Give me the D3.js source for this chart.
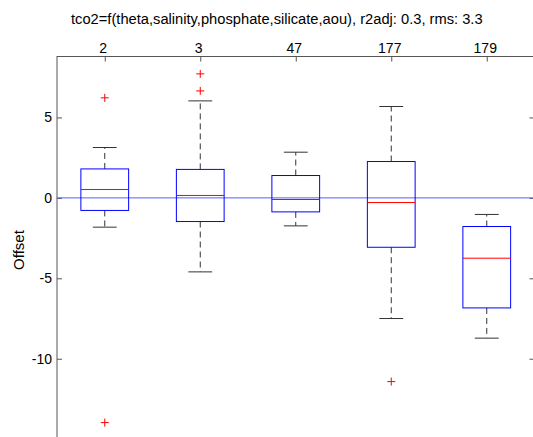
<!DOCTYPE html>
<html>
<head>
<meta charset="utf-8">
<script src="https://cdn.jsdelivr.net/npm/d3@7"></script>
<style>
  body { margin: 0; background: #fff; }
  svg { display: block; font-family: "Liberation Sans", Arial, sans-serif; }
</style>
</head>
<body>
<svg class="chart"></svg>
<script>
const categories = ["2", "3", "47", "177", "179"];
const whiskHi = [3.13, 6.03, 2.84, 5.68, -1.03];
const q3      = [1.80, 1.77, 1.39, 2.26, -1.78];
const median  = [0.52, 0.15, -0.10, -0.29, -3.75];
const q1      = [-0.78, -1.47, -0.87, -3.07, -6.84];
const whiskLo = [-1.82, -4.60, -1.74, -7.50, -8.72];
const outliers = [[6.22, -13.97], [7.71, 6.65], [], [-11.42], []];
const yTicks = [5, 0, -5, -10];
const title = "tco2=f(theta,salinity,phosphate,silicate,aou), r2adj: 0.3, rms: 3.3";

const W = 533, H = 437;
const svg = d3.select(".chart").attr("width", W).attr("height", H);

const mLeft = 57, mRight = 534.5, mTop = 56, mBottom = 444;

const x = d3.scaleLinear().domain([0.5, 5.5]).range([mLeft, mRight]);
const y = d3.scaleLinear().domain([8.82, -15.3]).range([mTop, mBottom]);

const axisColor = "#555";

// title
svg.append("text")
  .attr("x", 71).attr("y", 24)
  .attr("font-size", 14.7)
  .text(title);

// axes box
const g = svg.append("g");
g.append("line").attr("x1", mLeft).attr("x2", mLeft).attr("y1", mTop).attr("y2", mBottom)
  .attr("stroke", axisColor);
g.append("line").attr("x1", mLeft).attr("x2", mRight).attr("y1", mTop + 0.5).attr("y2", mTop + 0.5)
  .attr("stroke", axisColor);
g.append("line").attr("x1", mRight).attr("x2", mRight).attr("y1", mTop).attr("y2", mBottom)
  .attr("stroke", axisColor);

// top axis with category labels (ticks inward)
const topAxis = d3.axisTop(x).tickValues([1, 2, 3, 4, 5])
  .tickFormat((d, i) => categories[i]).tickSizeInner(-5).tickSizeOuter(0).tickPadding(4);
const ta = svg.append("g").attr("transform", "translate(0," + (mTop + 0.5) + ")").call(topAxis);
ta.select(".domain").remove();
ta.selectAll("line").attr("stroke", axisColor);
ta.selectAll("text").attr("font-size", 14).attr("fill", "#000").attr("font-family", null)
  .attr("dx", -2);

// bottom ticks (inward)
const botAxis = d3.axisBottom(x).tickValues([1, 2, 3, 4, 5]).tickFormat("").tickSizeInner(-5).tickSizeOuter(0);
const ba = svg.append("g").attr("transform", "translate(0," + mBottom + ")").call(botAxis);
ba.select(".domain").remove();
ba.selectAll("line").attr("stroke", axisColor);

// left axis
const leftAxis = d3.axisLeft(y).tickValues(yTicks).tickFormat(d => String(d))
  .tickSizeInner(-5).tickSizeOuter(0).tickPadding(5);
const la = svg.append("g").attr("transform", "translate(" + mLeft + ",0)").call(leftAxis);
la.select(".domain").remove();
la.selectAll("line").attr("stroke", axisColor);
la.selectAll("text").attr("font-size", 14).attr("fill", "#000").attr("font-family", null);

// right ticks
const rightAxis = d3.axisRight(y).tickValues(yTicks).tickFormat("").tickSizeInner(-5).tickSizeOuter(0);
const ra = svg.append("g").attr("transform", "translate(" + mRight + ",0)").call(rightAxis);
ra.select(".domain").remove();
ra.selectAll("line").attr("stroke", axisColor);

// y label
svg.append("text")
  .attr("transform", "translate(24,250) rotate(-90)")
  .attr("text-anchor", "middle").attr("font-size", 15)
  .text("Offset");

// zero line
svg.append("line")
  .attr("x1", mLeft).attr("x2", mRight)
  .attr("y1", y(0)).attr("y2", y(0))
  .attr("stroke", "#5c5cff").attr("stroke-width", 1);

const boxW = 0.5, capW = 0.25;
const boxes = svg.append("g").selectAll("g")
  .data(categories.map((c, i) => i)).join("g");

// whiskers
boxes.append("line")
  .attr("x1", i => x(i + 1)).attr("x2", i => x(i + 1))
  .attr("y1", i => y(q3[i])).attr("y2", i => y(whiskHi[i]))
  .attr("stroke", "#333").attr("stroke-dasharray", "6,4");
boxes.append("line")
  .attr("x1", i => x(i + 1)).attr("x2", i => x(i + 1))
  .attr("y1", i => y(q1[i])).attr("y2", i => y(whiskLo[i]))
  .attr("stroke", "#333").attr("stroke-dasharray", "6,4");

// caps
[whiskHi, whiskLo].forEach(arr => {
  boxes.append("line")
    .attr("x1", i => x(i + 1 - capW / 2)).attr("x2", i => x(i + 1 + capW / 2))
    .attr("y1", i => y(arr[i])).attr("y2", i => y(arr[i]))
    .attr("stroke", "#333");
});

// box
boxes.append("rect")
  .attr("x", i => x(i + 1 - boxW / 2)).attr("width", x(1 + boxW) - x(1))
  .attr("y", i => y(q3[i])).attr("height", i => y(q1[i]) - y(q3[i]))
  .attr("fill", "none").attr("stroke", "#0000ff");

// median
boxes.append("line")
  .attr("x1", i => x(i + 1 - boxW / 2)).attr("x2", i => x(i + 1 + boxW / 2))
  .attr("y1", i => y(median[i])).attr("y2", i => y(median[i]))
  .attr("stroke", "#ff0000");

// outliers
const pts = [];
outliers.forEach((arr, i) => arr.forEach(v => pts.push({ i, v })));
svg.append("g").selectAll("path").data(pts).join("path")
  .attr("d", d => {
    const cx = x(d.i + 1), cy = y(d.v);
    return "M" + (cx - 4) + "," + cy + "H" + (cx + 4) + "M" + cx + "," + (cy - 4) + "V" + (cy + 4);
  })
  .attr("stroke", "#ff0000").attr("fill", "none");
</script>
</body>
</html>
